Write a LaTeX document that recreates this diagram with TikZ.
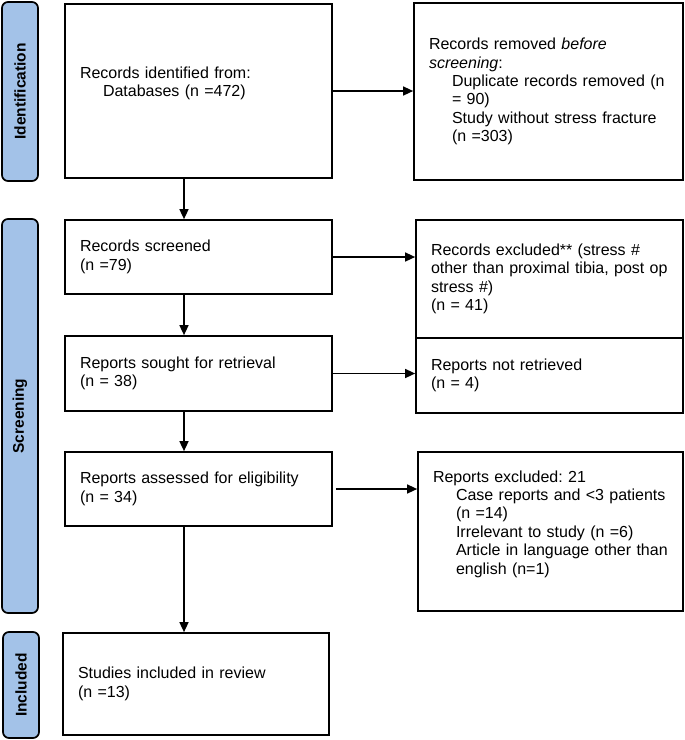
\documentclass[tikz,border=0pt]{standalone}
\usepackage{fontspec}
\setmainfont{Liberation Sans}
\usetikzlibrary{arrows.meta}
\definecolor{sidebar}{RGB}{163,194,232}
\newcommand{\ind}{\hspace*{23pt}}
\frenchspacing
\begin{document}
\begin{tikzpicture}[x=1pt,y=-1pt,
  box/.style={draw,line width=1.7pt,align=left,inner xsep=15pt,inner ysep=0pt,
    font=\fontsize{16}{18.4}\selectfont\frenchspacing},
  phase/.style={draw,line width=1.7pt,fill=sidebar,rounded corners=6pt,rotate=90,
    minimum height=36pt,inner sep=0pt,font=\fontsize{15.5}{18}\selectfont\bfseries},
  arr/.style={line width=1.5pt,-{Triangle[length=10pt,width=9pt]}}]
\useasboundingbox (0,0) rectangle (685,740);
% phase labels
\node[phase,minimum width=179pt] (pid) at (20,91.5) {Identification};
\node[phase,minimum width=394pt] (psc) at (20,416) {Screening};
\node[phase,minimum width=106pt] (pin) at (21,685) {Included};
% boxes
\node[box,minimum width=267pt,minimum height=174pt,text width=237pt] (A) at (198.5,91)
  {Records identified from:\\\ind Databases (n =472)\\\mbox{}};
\node[box,minimum width=269pt,minimum height=177pt,text width=239pt] (B) at (548.5,91.5)
  {Records removed \textit{before}\\\textit{screening}:\\\ind Duplicate records removed (n\\\ind = 90)\\\ind Study without stress fracture\\\ind (n =303)};
\node[box,minimum width=267pt,minimum height=74pt,text width=237pt] (S) at (198.5,257)
  {Records screened\\(n =79)};
\node[box,minimum width=267pt,minimum height=118pt,text width=237pt] (E) at (549.5,279)
  {Records excluded** (stress \#\\other than proximal tibia, post op\\stress \#)\\(n = 41)};
\node[box,minimum width=267pt,minimum height=75pt,text width=237pt] (R) at (198.5,373.5)
  {Reports sought for retrieval\\(n = 38)};
\node[box,minimum width=267pt,minimum height=75pt,text width=237pt] (N) at (549.5,375.5)
  {Reports not retrieved\\(n = 4)};
\node[box,minimum width=267pt,minimum height=74pt,text width=237pt] (AS) at (198.5,489)
  {Reports assessed for eligibility\\(n = 34)};
\node[box,minimum width=265pt,minimum height=159pt,text width=235pt] (X) at (550.5,531.5)
  {Reports excluded: 21\\\ind Case reports and <3 patients\\\ind (n =14)\\\ind Irrelevant to study (n =6)\\\ind Article in language other than\\\ind english (n=1)\\\mbox{}};
\node[box,minimum width=266pt,minimum height=102pt,text width=236pt] (I) at (196,684)
  {Studies included in review\\(n =13)};
% connectors
\coordinate (vx) at (184,0);
\draw[arr] (A.south -| vx) -- (S.north -| vx);
\draw[arr] (S.south -| vx) -- (R.north -| vx);
\draw[arr] (R.south -| vx) -- (AS.north -| vx);
\draw[arr] (AS.south -| vx) -- (I.north -| vx);
\draw[arr] (A.east) -- (A.east -| B.west);
\draw[arr] (S.east) -- (S.east -| E.west);
\draw[arr] (R.east) -- (R.east -| N.west);
\draw[arr,shorten <=3pt] (AS.east) -- (AS.east -| X.west);
\end{tikzpicture}
\end{document}
